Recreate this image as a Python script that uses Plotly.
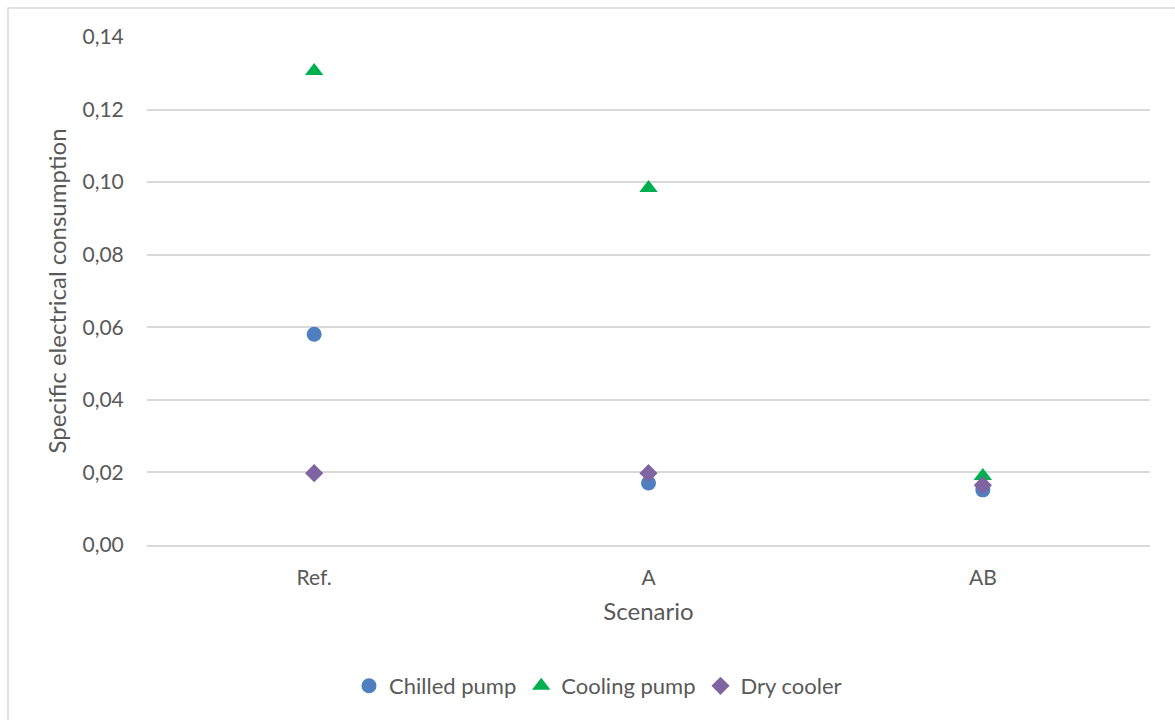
import plotly.graph_objects as go

# Scenario categories and specific electrical consumption per component
scenarios = ["Ref.", "A", "AB"]
chilled_pump = [0.0581, 0.0171, 0.0152]
cooling_pump = [0.1306, 0.0984, 0.0190]
dry_cooler = [0.0198, 0.0198, 0.0165]

y_ticks = [0.00, 0.02, 0.04, 0.06, 0.08, 0.10, 0.12, 0.14]

FONT = "Lato, 'Open Sans', sans-serif"
TEXT_COLOR = "#595959"
GRID_COLOR = "#d9d9d9"

W, H = 1175, 720
L, R, T, B = 147, 25, 37, 175

fig = go.Figure()

fig.add_trace(go.Scatter(
    x=scenarios, y=chilled_pump, mode="markers", name="Chilled pump",
    marker=dict(symbol="circle", size=15, color="#4F7FBE"),
))
fig.add_trace(go.Scatter(
    x=scenarios, y=cooling_pump, mode="markers", name="Cooling pump",
    marker=dict(symbol="triangle-up", size=16, color="#00B050"),
))
fig.add_trace(go.Scatter(
    x=scenarios, y=dry_cooler, mode="markers", name="Dry cooler",
    marker=dict(symbol="diamond", size=14, color="#8064A2"),
))

# outer chart frame (extends past the right and bottom edges of the page)
pw = W - L - R
ph = H - T - B
fig.add_shape(
    type="rect", xref="paper", yref="paper",
    x0=(8 - L) / pw, x1=(W + 20 - L) / pw,
    y0=-(H + 20 - (H - B)) / ph, y1=1 + (T - 8) / ph,
    line=dict(color=GRID_COLOR, width=1.5), fillcolor="rgba(0,0,0,0)", layer="below",
)

fig.update_layout(
    width=W, height=H,
    margin=dict(l=L, r=R, t=T, b=B),
    paper_bgcolor="white", plot_bgcolor="white",
    separators=", ",
    font=dict(family=FONT, color=TEXT_COLOR, size=21),
    showlegend=True,
    legend=dict(
        orientation="h", xanchor="center", yanchor="middle",
        x=(598 - L) / pw, y=-(686 - (H - B)) / ph,
        font=dict(size=22, color=TEXT_COLOR), itemwidth=30,
        bgcolor="rgba(0,0,0,0)",
    ),
)

fig.update_xaxes(
    type="category", range=[-0.5, 2.5],
    showgrid=False, showline=True, linecolor=GRID_COLOR, linewidth=1.5,
    ticks="outside", ticklen=13, tickcolor="rgba(0,0,0,0)",
    tickfont=dict(size=21, color=TEXT_COLOR),
    title=dict(text="Scenario", font=dict(size=24, color=TEXT_COLOR), standoff=15),
    zeroline=False,
)
fig.update_yaxes(
    range=[0, 0.14], tickvals=y_ticks, tickformat=".2f",
    showgrid=True, gridcolor=GRID_COLOR, gridwidth=1.5,
    zeroline=False, showline=False,
    ticks="outside", ticklen=18, tickcolor="rgba(0,0,0,0)",
    tickfont=dict(size=21, color=TEXT_COLOR),
    title=dict(text="Specific electrical consumption", font=dict(size=24, color=TEXT_COLOR), standoff=9),
)

fig.write_html("out.html")
